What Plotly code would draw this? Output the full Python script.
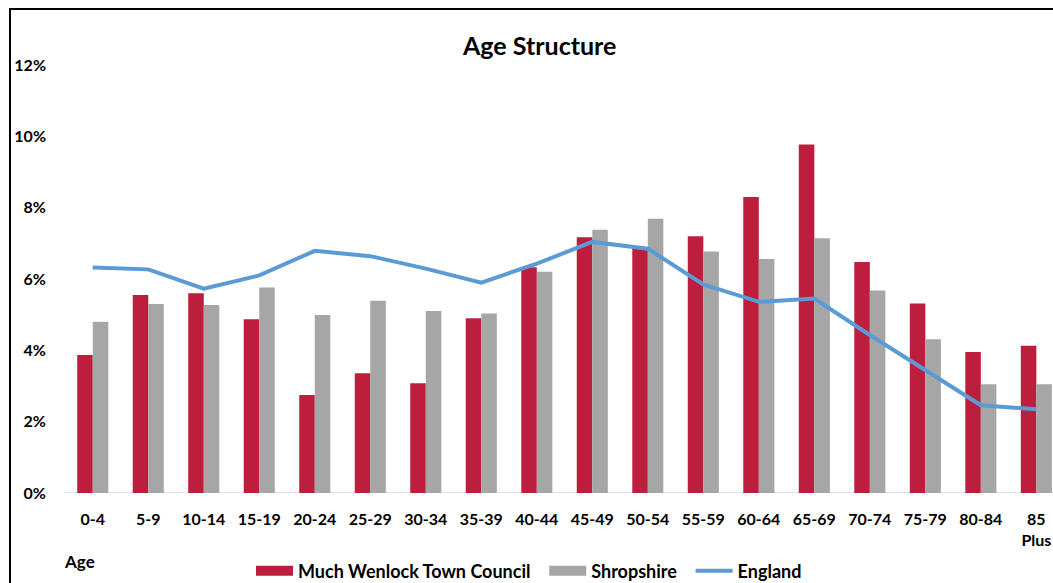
import plotly.graph_objects as go

categories = ["0-4", "5-9", "10-14", "15-19", "20-24", "25-29", "30-34", "35-39", "40-44",
              "45-49", "50-54", "55-59", "60-64", "65-69", "70-74", "75-79", "80-84", "85<br>Plus"]
much_wenlock = [3.87, 5.55, 5.60, 4.87, 2.75, 3.36, 3.08, 4.90, 6.33,
                7.17, 6.87, 7.20, 8.30, 9.77, 6.48, 5.31, 3.95, 4.13]
shropshire = [4.80, 5.30, 5.27, 5.76, 4.99, 5.39, 5.10, 5.03, 6.20,
              7.38, 7.69, 6.77, 6.56, 7.14, 5.68, 4.31, 3.05, 3.05]
england = [6.32, 6.27, 5.73, 6.10, 6.79, 6.64, 6.29, 5.90, 6.43,
           7.04, 6.85, 5.85, 5.36, 5.45, 4.43, 3.45, 2.46, 2.35]
y_ticks = [0, 2, 4, 6, 8, 10, 12]
y_tick_text = ["0%", "2%", "4%", "6%", "8%", "10%", "12%"]

FONT = "Lato"
RED = "#BE1E3E"
GREY = "#A6A6A6"
BLUE = "#5B9BD5"
xs = list(range(len(categories)))
SP = "\u00a0\u00a0"

fig = go.Figure()
fig.add_trace(go.Bar(x=xs, y=much_wenlock, name="Much Wenlock Town Council",
                     marker=dict(color=RED, line=dict(width=0)), showlegend=False))
fig.add_trace(go.Bar(x=xs, y=shropshire, name="Shropshire",
                     marker=dict(color=GREY, line=dict(width=0)), showlegend=False))
fig.add_trace(go.Scatter(x=xs, y=england, name="England", mode="lines",
                         line=dict(color=BLUE, width=4), showlegend=False))
# legend entries (wide swatches like the original)
fig.add_trace(go.Scatter(x=[None], y=[None], name="Much Wenlock Town Council" + SP, mode="lines",
                         line=dict(color=RED, width=12)))
fig.add_trace(go.Scatter(x=[None], y=[None], name="Shropshire" + SP, mode="lines",
                         line=dict(color=GREY, width=12)))
fig.add_trace(go.Scatter(x=[None], y=[None], name="England", mode="lines",
                         line=dict(color=BLUE, width=4)))

W, H = 1053, 583
L, R, T, B = 65, 0, 65, 90
pw, ph = W - L - R, H - T - B

def px_x(p):
    return (p - L) / pw

def px_y(p):
    return (H - B - p) / ph

fig.update_layout(
    width=W, height=H,
    margin=dict(l=L, r=R, t=T, b=B, autoexpand=False),
    paper_bgcolor="white", plot_bgcolor="white",
    barmode="group", bargap=0.44, bargroupgap=0,
    font=dict(family=FONT, color="#000000"),
    showlegend=True,
    legend=dict(orientation="h", xref="container", yref="container",
                x=529 / W, xanchor="center", y=1 - 571 / H, yanchor="middle",
                font=dict(family=FONT, size=18, color="#000000", weight="bold"),
                itemwidth=37, tracegroupgap=0, bgcolor="rgba(0,0,0,0)"),
    xaxis=dict(range=[-0.5, 17.3], tickmode="array", tickvals=xs, ticktext=categories,
               showgrid=False, zeroline=False, showline=False, ticks="",
               tickfont=dict(family=FONT, size=16, color="#000000", weight="bold"),
               ticklabelstandoff=15, fixedrange=True, automargin=False),
    yaxis=dict(range=[0, 12], tickmode="array", tickvals=y_ticks, ticktext=y_tick_text,
               showgrid=False, zeroline=False, showline=False, ticks="",
               tickfont=dict(family=FONT, size=16, color="#000000", weight="bold"),
               ticklabelstandoff=18, fixedrange=True, automargin=False),
    shapes=[
        dict(type="line", xref="paper", yref="y", x0=0, x1=1, y0=0, y1=0,
             line=dict(color="#D9D9D9", width=1.5), layer="below"),
        dict(type="rect", xref="paper", yref="paper",
             x0=px_x(10), x1=px_x(1100), y0=px_y(640), y1=px_y(9),
             line=dict(color="#000000", width=2), fillcolor="rgba(0,0,0,0)"),
    ],
    annotations=[
        dict(text="Age Structure", xref="paper", yref="paper", x=px_x(539), y=px_y(45),
             xanchor="center", yanchor="middle", showarrow=False,
             font=dict(family=FONT, size=25, color="#000000", weight="bold")),
        dict(text="Age", xref="paper", yref="paper", x=px_x(62), y=px_y(561),
             xanchor="left", yanchor="middle", showarrow=False,
             font=dict(family=FONT, size=17, color="#000000", weight="bold")),
    ],
)

fig.write_html("out.html", config={"displayModeBar": False},
               post_script="document.body.style.margin='0';document.body.style.overflow='hidden';")
